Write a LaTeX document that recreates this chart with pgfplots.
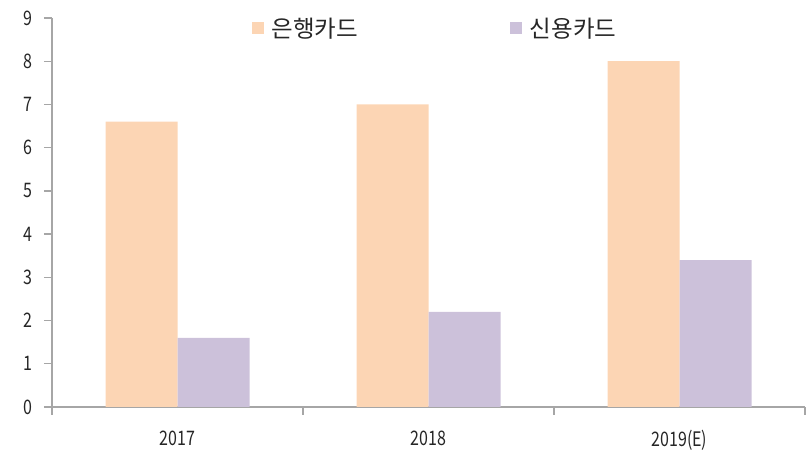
\documentclass[border=0pt]{standalone}
\usepackage{fontspec}
\setmainfont{Noto Sans CJK KR}
\newfontfamily\tickfont[FakeStretch=0.8]{Noto Sans CJK KR}
\usepackage{pgfplots}
\pgfplotsset{compat=1.18}
\definecolor{bankc}{HTML}{FCD5B4}
\definecolor{credc}{HTML}{CCC1DA}
\definecolor{axgray}{HTML}{A6A6A6}
\begin{document}
\begin{tikzpicture}
\begin{axis}[
  name=ax,
  scale only axis,
  width=753pt, height=389pt,
  ybar=0pt, bar width=72pt,
  xmin=-0.5, xmax=2.5,
  ymin=0, ymax=9,
  ytick={0,1,2,3,4,5,6,7,8,9},
  xtick={0,1,2},
  xticklabels={2017,2018,2019(E)},
  minor xtick={-0.5,0.5,1.5,2.5},
  axis x line*=bottom,
  axis y line*=left,
  axis line style={draw=axgray, line width=1.5pt, -},
  tick align=outside,
  major tick length=8pt,
  minor tick length=8pt,
  major x tick style={draw=none},
  every tick/.style={draw=axgray, line width=1.3pt},
  minor tick style={draw=axgray, line width=1.3pt},
  /pgf/number format/assume math mode=true,
  ticklabel style={font=\tickfont\fontsize{20}{21}\selectfont, text=black!85},
  yticklabel style={xshift=-8pt},
  xticklabel style={yshift=-12pt},
  legend style={draw=none, fill=none, at={(0.5086,0.974)}, anchor=center,
    font=\fontsize{23.5}{25}\selectfont, text=black!85,
    legend columns=2,
    /tikz/every even column/.append style={column sep=150pt},
    /tikz/every odd column/.append style={column sep=6pt},
    inner sep=0pt},
  legend image code/.code={\fill[#1] (0pt,-6pt) rectangle (12pt,6pt);},
  legend cell align=left,
]
\addplot[fill=bankc, draw=none] coordinates {(0,6.6) (1,7.0) (2,8.0)};
\addplot[fill=credc, draw=none] coordinates {(0,1.6) (1,2.2) (2,3.4)};
\legend{은행카드,신용카드}
\end{axis}
\pgfresetboundingbox
\path ([shift={(-52pt,-45pt)}]ax.south west) rectangle ([shift={(1pt,18pt)}]ax.north east);
\end{tikzpicture}
\end{document}
